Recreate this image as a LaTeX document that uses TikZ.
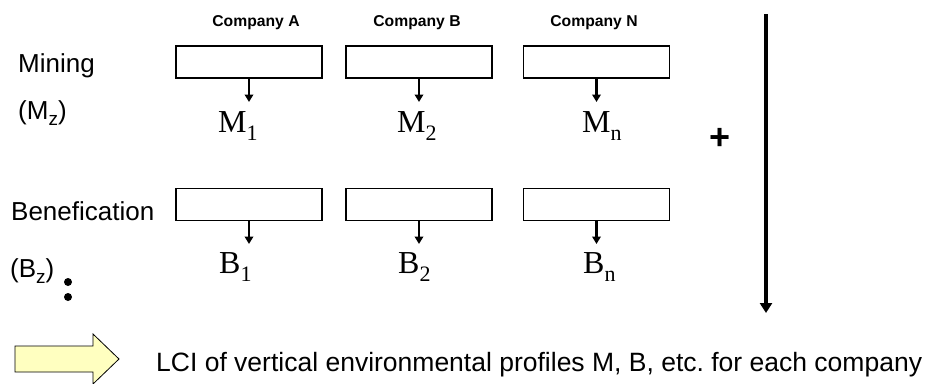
\documentclass[tikz,border=0pt]{standalone}
\usepackage{fontspec}
\setmainfont{Liberation Sans}
\newfontfamily\romanfont{Liberation Serif}
\usetikzlibrary{arrows.meta}
\frenchspacing

% serif label with a lowered index, e.g. M_1
\newcommand{\idxlabel}[2]{{\romanfont\fontsize{32}{32}\selectfont #1}\raisebox{-8pt}{\romanfont\fontsize{22}{22}\selectfont #2}}
% sans row label with a lowered index, e.g. (M_z)
\newcommand{\rowidx}[2]{(#1\raisebox{-6pt}{\fontsize{19}{19}\selectfont #2})}

\begin{document}
\begin{tikzpicture}[x=1pt,y=-1pt,
  stagebox/.style={draw=black,line width=1.1pt,fill=white,minimum width=146pt,minimum height=32pt,inner sep=0pt},
  company/.style={font=\bfseries\fontsize{15.7}{16}\selectfont,anchor=base,inner sep=0pt},
  rowlabel/.style={font=\fontsize{26}{28}\selectfont,anchor=base west,inner sep=0pt},
  result/.style={anchor=base west,inner sep=0pt},
  flow/.style={line width=2.6pt,-{Triangle[width=8.5pt,length=7.5pt]}},
  sumarrow/.style={line width=3.6pt,-{Triangle[width=12pt,length=10pt]}}
]
\useasboundingbox (0,0) rectangle (931,383);

% company headings
\node[company] (hA) at (256,26) {Company A};
\node[company] (hB) at (417,26) {Company B};
\node[company] (hN) at (594,26) {Company N};

% row labels
\node[rowlabel] (lmin) at (18,72) {Mining};
\node[rowlabel] (lmz) at (18,119) {\rowidx{M}{z}};
\node[rowlabel] (lben) at (11,220) {Benefication};
\node[rowlabel] (lbz) at (10,277) {\rowidx{B}{z}};

% continuation dots
\fill (68,282) circle (4pt) coordinate (d1);
\fill (68,297) circle (4pt) coordinate (d2);

% mining stage boxes
\node[stagebox] (mA) at (249,62) {};
\node[stagebox] (mB) at (419,62) {};
\node[stagebox] (mN) at (596.5,62) {};
% benefication stage boxes
\node[stagebox] (bA) at (249,204.5) {};
\node[stagebox] (bB) at (419,204.5) {};
\node[stagebox] (bN) at (596.5,204.5) {};

% outputs of each stage
\coordinate (mAo) at (249,102);
\coordinate (mBo) at (419,102);
\coordinate (mNo) at (596.5,102);
\coordinate (bAo) at (249,244);
\coordinate (bBo) at (419,244);
\coordinate (bNo) at (596.5,244);
\draw[flow] (mA.south) -- (mAo);
\draw[flow] (mB.south) -- (mBo);
\draw[flow] (mN.south) -- (mNo);
\draw[flow] (bA.south) -- (bAo);
\draw[flow] (bB.south) -- (bBo);
\draw[flow] (bN.south) -- (bNo);

\node[result] (rM1) at (218,132) {\idxlabel{M}{1}};
\node[result] (rM2) at (397,132) {\idxlabel{M}{2}};
\node[result] (rMn) at (582,132) {\idxlabel{M}{n}};
\node[result] (rB1) at (219,273) {\idxlabel{B}{1}};
\node[result] (rB2) at (398,273) {\idxlabel{B}{2}};
\node[result] (rBn) at (583,273) {\idxlabel{B}{n}};

% summation along the chain
\node[font=\bfseries\fontsize{36}{36}\selectfont,inner sep=0pt] (plus) at (720,139) {+};
\coordinate (sumtop) at (766,14);
\coordinate (sumbot) at (766,313);
\draw[sumarrow] (sumtop) -- (sumbot);

% block arrow and result statement
\draw[line width=0.8pt,fill={rgb,255:red,255;green,255;blue,192}]
  (15,346) -- (93,346) -- (93,334) -- (119,359) -- (93,384) -- (93,372) -- (15,372) -- cycle;
\node[rowlabel,font=\fontsize{26.5}{28}\selectfont] (lci) at (156,371) {LCI of vertical environmental profiles M, B, etc. for each company};
\end{tikzpicture}
\end{document}
